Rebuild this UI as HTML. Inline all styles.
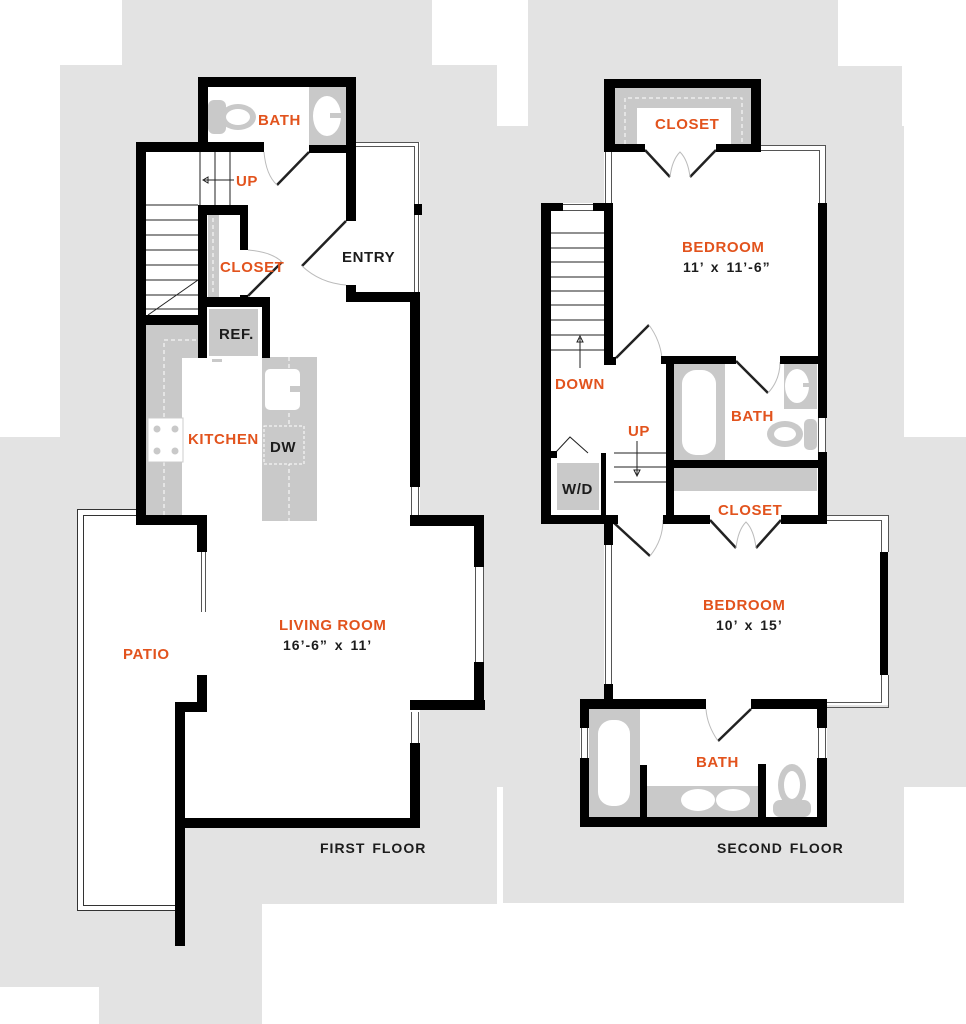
<!DOCTYPE html>
<html><head><meta charset="utf-8"><style>
html,body{margin:0;padding:0;background:#fff}
svg{display:block}
text{font-family:"Liberation Sans",sans-serif;font-weight:bold;font-size:15px;letter-spacing:0.6px}
.o{fill:#e2531d}.k{fill:#1c1c1c}
.d{font-size:14px;letter-spacing:1px;word-spacing:2px}
</style></head><body>
<svg width="966" height="1024" viewBox="0 0 966 1024" xmlns="http://www.w3.org/2000/svg">
<g fill="#e3e3e3">
<rect x="122" y="0" width="310" height="66"/>
<rect x="60" y="65" width="437" height="62"/>
<rect x="528" y="0" width="310" height="67"/>
<rect x="528" y="66" width="374" height="61"/>
<rect x="60" y="126" width="844" height="312"/>
<rect x="0" y="437" width="966" height="350"/>
<rect x="0" y="786" width="497" height="118"/>
<rect x="503" y="786" width="401" height="117"/>
<rect x="0" y="903" width="262" height="84"/>
<rect x="99" y="986" width="163" height="38"/>
</g>
<g fill="#fff">
<rect x="198" y="77" width="158" height="75"/>
<rect x="136" y="142" width="220" height="160"/>
<rect x="346" y="142" width="74" height="160"/>
<rect x="136" y="290" width="284" height="235"/>
<rect x="136" y="515" width="348" height="195"/>
<rect x="175" y="700" width="245" height="128"/>
<rect x="77" y="509" width="100" height="402"/>
</g>
<g fill="none" stroke="#333" stroke-width="1">
<path d="M136,509.5 H77.5 V910.5 H176"/>
<path d="M136,515.5 H83.5 V905.5 H176"/>
</g>
<g fill="#c9c9c9">
<rect x="146" y="323" width="54" height="35"/>
<rect x="146" y="323" width="36" height="192"/>
<rect x="209" y="309" width="49" height="47"/>
<rect x="262" y="357" width="55" height="164"/>
<rect x="208" y="215" width="11" height="82"/>
<rect x="309" y="87" width="37" height="58"/>
</g>
<g fill="none" stroke="#fff" stroke-width="1" stroke-dasharray="4,3">
<path d="M164,515 V340 H198"/><path d="M289,357 V521"/><path d="M213,218 V295"/>
</g>
<rect x="148" y="418" width="35" height="44" fill="#fff" stroke="#ccc"/>
<g fill="#c9c9c9"><circle cx="157" cy="429" r="3.5"/><circle cx="175" cy="429" r="3.5"/><circle cx="157" cy="451" r="3.5"/><circle cx="175" cy="451" r="3.5"/></g>
<rect x="265" y="369" width="35" height="41" rx="5" fill="#fff"/>
<rect x="290" y="386" width="12" height="6" fill="#c9c9c9"/>
<rect x="264" y="426" width="40" height="38" fill="#c9c9c9" stroke="#fff" stroke-dasharray="3,2"/>
<rect x="212" y="359" width="10" height="3" fill="#c9c9c9"/>
<ellipse cx="327" cy="116" rx="14" ry="20" fill="#fff"/>
<rect x="330" y="113" width="12" height="5" fill="#c9c9c9"/>
<rect x="208" y="100" width="18" height="34" rx="6" fill="#c9c9c9"/>
<ellipse cx="238" cy="117" rx="18" ry="13" fill="#c9c9c9"/>
<ellipse cx="238" cy="117" rx="12" ry="8" fill="#fff"/>
<g stroke="#222" stroke-width="1" fill="none">
<path d="M146,205H198M146,220H198M146,235H198M146,250H198M146,265H198M146,280H198M146,295H198M146,309H198"/>
<path d="M200,152V205M215,152V205M230,152V205"/>
<path d="M148,315L198,280"/>
<path d="M234,180H204"/><path d="M208,177L203,180L208,183Z"/>
</g>
<g fill="none" stroke="#555" stroke-width="1">
<path d="M356,142.5H418.5V292"/><path d="M356,146.5H414.5V292"/>
<path d="M411.5,487V515M418.5,487V515M411.5,712V743M418.5,712V743M475.5,567V662M483.5,567V662M201.5,552V612M205.5,552V612"/>
</g>
<rect x="414" y="204" width="8" height="11" fill="#000"/>
<g stroke="#222" stroke-width="2.5"><path d="M309,152L277,185"/><path d="M346,221L302,266"/><path d="M248,296L282,262"/></g>
<g stroke="#bbb" stroke-width="1" fill="none">
<path d="M264,152 Q266,175 277,185"/><path d="M302,266 Q320,283 346,285"/><path d="M248,250 Q272,252 282,262"/>
</g>
<g fill="#000">
<rect x="198" y="77" width="158" height="10"/>
<rect x="198" y="77" width="10" height="75"/>
<rect x="346" y="77" width="10" height="144"/>
<rect x="136" y="142" width="128" height="10"/>
<rect x="309" y="145" width="47" height="8"/>
<rect x="136" y="142" width="10" height="383"/>
<rect x="136" y="515" width="71" height="10"/>
<rect x="197" y="515" width="10" height="37"/>
<rect x="197" y="675" width="10" height="37"/>
<rect x="175" y="702" width="32" height="10"/>
<rect x="175" y="702" width="10" height="244"/>
<rect x="175" y="818" width="245" height="10"/>
<rect x="410" y="743" width="10" height="85"/>
<rect x="410" y="700" width="75" height="10"/>
<rect x="474" y="515" width="10" height="52"/>
<rect x="474" y="662" width="10" height="48"/>
<rect x="410" y="515" width="74" height="11"/>
<rect x="410" y="292" width="10" height="195"/>
<rect x="346" y="292" width="74" height="10"/>
<rect x="346" y="285" width="10" height="17"/>
<rect x="136" y="315" width="71" height="10"/>
<rect x="198" y="205" width="9" height="153"/>
<rect x="198" y="205" width="50" height="10"/>
<rect x="240" y="205" width="8" height="45"/>
<rect x="198" y="297" width="72" height="10"/>
<rect x="262" y="297" width="8" height="61"/>
<rect x="240" y="295" width="8" height="4"/>
</g>
<g fill="#fff">
<rect x="604" y="79" width="157" height="73"/>
<rect x="604" y="145" width="222" height="220"/>
<rect x="541" y="203" width="285" height="320"/>
<rect x="604" y="515" width="284" height="190"/>
<rect x="580" y="699" width="247" height="128"/>
</g>
<g fill="#c9c9c9">
<rect x="615" y="88" width="136" height="56"/>
<rect x="674" y="364" width="51" height="96"/>
<rect x="784" y="364" width="33" height="45"/>
<rect x="674" y="468" width="143" height="23"/>
<rect x="557" y="463" width="42" height="47"/>
<rect x="589" y="709" width="51" height="108"/>
<rect x="647" y="786" width="111" height="31"/>
</g>
<rect x="637" y="108" width="94" height="36" fill="#fff"/>
<g fill="none" stroke="#fff" stroke-dasharray="4,3"><path d="M625,144V98H742V144"/><path d="M674,492H817"/></g>
<rect x="682" y="370" width="34" height="85" rx="14" fill="#fff"/>
<rect x="598" y="720" width="32" height="86" rx="14" fill="#fff"/>
<ellipse cx="797" cy="386" rx="12" ry="17" fill="#fff"/>
<rect x="803" y="383" width="10" height="4" fill="#c9c9c9"/>
<rect x="804" y="419" width="13" height="31" rx="5" fill="#c9c9c9"/>
<ellipse cx="785" cy="434" rx="18" ry="13" fill="#c9c9c9"/><ellipse cx="785" cy="434" rx="11" ry="7" fill="#fff"/>
<ellipse cx="698" cy="800" rx="17" ry="11" fill="#fff"/><ellipse cx="733" cy="800" rx="17" ry="11" fill="#fff"/>
<rect x="773" y="800" width="38" height="17" rx="7" fill="#c9c9c9"/>
<ellipse cx="792" cy="785" rx="14" ry="21" fill="#c9c9c9"/><ellipse cx="792" cy="785" rx="8" ry="14" fill="#fff"/>
<g stroke="#222" stroke-width="1" fill="none">
<path d="M551,233H604M551,248H604M551,262H604M551,277H604M551,291H604M551,305H604M551,320H604M551,335H604M551,350H604"/>
<path d="M580,368V338"/><path d="M577,342L580,336L583,342Z"/>
<path d="M614,453H666M614,467H666M614,482H666"/>
<path d="M637,441V475"/><path d="M634,470L637,476L640,470Z"/>
<path d="M556,452L570,437L588,453"/>
</g>
<g fill="none" stroke="#555">
<path d="M761,145.5H825.5V203M761,150.5H819.5V203"/>
<path d="M605.5,152V203M611.5,152V203M563,204.5H593M563,210.5H593"/>
<path d="M818.5,418V452M825.5,418V452"/>
<path d="M827,515.5H888.5V552M827,520.5H881.5V552"/>
<path d="M827,707.5H888.5V675M827,702.5H881.5V675"/>
<path d="M605.5,545V684M611.5,545V684"/>
<path d="M581.5,728V758M587.5,728V758M818.5,728V758M825.5,728V758"/>
</g>
<g stroke="#222" stroke-width="2.5">
<path d="M645,150L670,177"/><path d="M716,150L690,177"/>
<path d="M616,358L649,325"/><path d="M736,361L768,393"/>
<path d="M613,522L650,556"/><path d="M710,520L736,548"/><path d="M781,520L756,548"/>
<path d="M751,709L718,741"/>
</g>
<g stroke="#bbb" fill="none">
<path d="M670,177Q672,160 680,152Q688,160 690,177"/><path d="M649,325Q660,340 662,358"/>
<path d="M768,393Q780,380 780,362"/><path d="M650,556Q663,540 663,520"/>
<path d="M736,548Q738,530 746,522Q754,530 756,548"/><path d="M718,741Q707,725 706,709"/>
</g>
<g fill="#000">
<rect x="604" y="79" width="157" height="9"/>
<rect x="604" y="79" width="11" height="73"/>
<rect x="751" y="79" width="10" height="73"/>
<rect x="604" y="144" width="41" height="8"/>
<rect x="716" y="144" width="45" height="8"/>
<rect x="818" y="203" width="9" height="215"/>
<rect x="818" y="452" width="9" height="72"/>
<rect x="604" y="203" width="9" height="162"/>
<rect x="541" y="203" width="10" height="320"/>
<rect x="541" y="203" width="22" height="8"/>
<rect x="593" y="203" width="20" height="8"/>
<rect x="604" y="357" width="12" height="8"/>
<rect x="661" y="356" width="75" height="8"/>
<rect x="780" y="356" width="46" height="8"/>
<rect x="666" y="356" width="8" height="168"/>
<rect x="666" y="460" width="160" height="8"/>
<rect x="551" y="451" width="6" height="7"/>
<rect x="601" y="453" width="5" height="70"/>
<rect x="541" y="515" width="77" height="9"/>
<rect x="663" y="515" width="47" height="9"/>
<rect x="781" y="515" width="46" height="9"/>
<rect x="604" y="515" width="9" height="30"/>
<rect x="604" y="684" width="9" height="20"/>
<rect x="880" y="552" width="8" height="123"/>
<rect x="580" y="699" width="126" height="10"/>
<rect x="751" y="699" width="76" height="10"/>
<rect x="580" y="699" width="9" height="29"/>
<rect x="580" y="758" width="9" height="69"/>
<rect x="817" y="699" width="10" height="29"/>
<rect x="817" y="758" width="10" height="69"/>
<rect x="580" y="817" width="247" height="10"/>
<rect x="640" y="765" width="7" height="52"/>
<rect x="758" y="764" width="8" height="53"/>
</g>
<text class="o" x="258" y="125">BATH</text>
<text class="o" x="236" y="186">UP</text>
<text class="o" x="220" y="272">CLOSET</text>
<text class="k" x="342" y="262">ENTRY</text>
<text class="k" x="219" y="339">REF.</text>
<text class="o" x="188" y="444">KITCHEN</text>
<text class="k" x="270" y="452">DW</text>
<text class="o" x="279" y="630">LIVING ROOM</text>
<text class="k d" x="283" y="650">16’-6” x 11’</text>
<text class="o" x="123" y="659">PATIO</text>
<text class="k d" x="320" y="853">FIRST FLOOR</text>
<text class="o" x="655" y="129">CLOSET</text>
<text class="o" x="682" y="252">BEDROOM</text>
<text class="k d" x="683" y="272">11’ x 11’-6”</text>
<text class="o" x="555" y="389">DOWN</text>
<text class="o" x="731" y="421">BATH</text>
<text class="o" x="628" y="436">UP</text>
<text class="k" x="562" y="494">W/D</text>
<text class="o" x="718" y="515">CLOSET</text>
<text class="o" x="703" y="610">BEDROOM</text>
<text class="k d" x="716" y="630">10’ x 15’</text>
<text class="o" x="696" y="767">BATH</text>
<text class="k d" x="717" y="853">SECOND FLOOR</text>
</svg>
</body></html>
